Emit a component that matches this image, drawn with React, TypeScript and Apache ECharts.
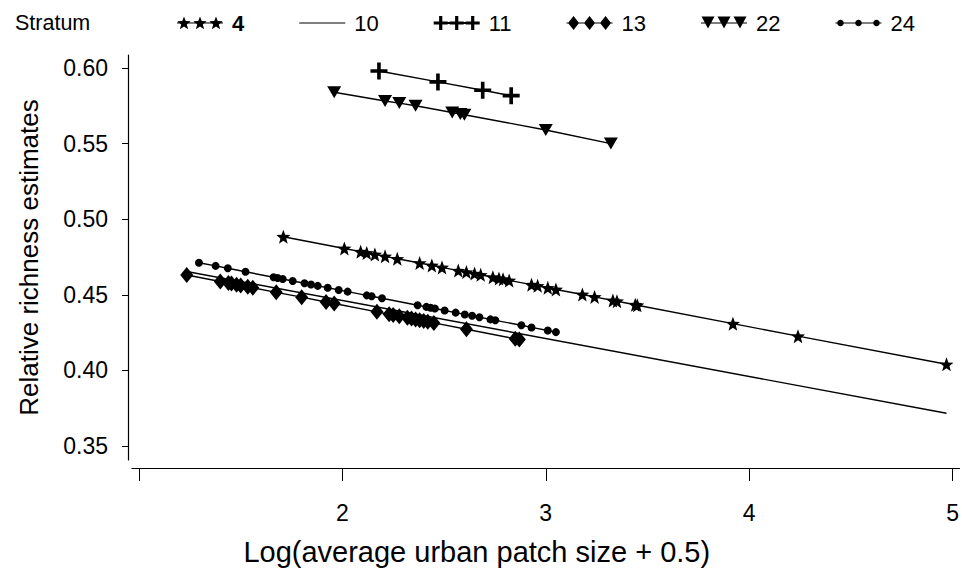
import React, { useEffect, useRef } from "react";
import * as echarts from "echarts";

// ---- data ----
const legendNames = ["4", "10", "11", "13", "22", "24"];

const x4 = [1.71, 2.01, 2.09, 2.12, 2.16, 2.21, 2.27, 2.38, 2.44, 2.49, 2.57, 2.61, 2.65, 2.68, 2.74, 2.77, 2.79, 2.82, 2.93, 2.96, 3.01, 3.05, 3.18, 3.24, 3.33, 3.35, 3.44, 3.45, 3.92, 4.24, 4.97];
const y4 = [0.4884, 0.4806, 0.4785, 0.4777, 0.4767, 0.4754, 0.4738, 0.4710, 0.4694, 0.4681, 0.4660, 0.4650, 0.4640, 0.4632, 0.4616, 0.4608, 0.4603, 0.4595, 0.4567, 0.4559, 0.4546, 0.4535, 0.4502, 0.4486, 0.4462, 0.4457, 0.4434, 0.4431, 0.4309, 0.4226, 0.4040];

const x10 = [1.235, 4.97];
const y10 = [0.4654, 0.3716];

const x11 = [2.18, 2.47, 2.69, 2.83];
const y11 = [0.5980, 0.5908, 0.5853, 0.5817];

const x13 = [1.235, 1.40, 1.44, 1.455, 1.48, 1.50, 1.535, 1.56, 1.675, 1.80, 1.92, 1.96, 2.17, 2.23, 2.25, 2.28, 2.32, 2.34, 2.36, 2.38, 2.40, 2.42, 2.45, 2.61, 2.85, 2.87];
const y13 = [0.4631, 0.4588, 0.4578, 0.4574, 0.4567, 0.4562, 0.4553, 0.4546, 0.4516, 0.4484, 0.4452, 0.4442, 0.4387, 0.4371, 0.4366, 0.4358, 0.4348, 0.4343, 0.4337, 0.4332, 0.4327, 0.4322, 0.4314, 0.4272, 0.4209, 0.4204];

const x22 = [1.96, 2.21, 2.28, 2.36, 2.54, 2.58, 2.60, 3.00, 3.32];
const y22 = [0.5840, 0.5782, 0.5768, 0.5750, 0.5706, 0.5696, 0.5691, 0.5590, 0.5500];

const x24 = [1.295, 1.377, 1.437, 1.524, 1.662, 1.682, 1.707, 1.756, 1.814, 1.846, 1.879, 1.928, 1.982, 2.026, 2.12, 2.144, 2.195, 2.37, 2.413, 2.434, 2.455, 2.503, 2.557, 2.602, 2.638, 2.674, 2.728, 2.752, 2.88, 2.93, 3.01, 3.05];
const y24 = [0.4712, 0.4691, 0.4675, 0.4652, 0.4616, 0.4611, 0.4604, 0.4591, 0.4576, 0.4568, 0.4559, 0.4546, 0.4532, 0.4521, 0.4496, 0.4490, 0.4477, 0.4431, 0.4420, 0.4414, 0.4409, 0.4396, 0.4382, 0.4370, 0.4361, 0.4351, 0.4337, 0.4331, 0.4298, 0.4284, 0.4264, 0.4253];

const xTicks = [1, 2, 3, 4, 5];
const xLabels = [2, 3, 4, 5];
const yTicks = [0.35, 0.40, 0.45, 0.50, 0.55, 0.60];

// ---- shape helpers (styling only) ----
const f = (n: number) => n.toFixed(2);
function starPath(cx: number, cy: number, R: number) {
  const r = R * 0.42;
  let d = "";
  for (let i = 0; i < 10; i++) {
    const a = -Math.PI / 2 + (i * Math.PI) / 5;
    const rr = i % 2 === 0 ? R : r;
    d += (i === 0 ? "M" : "L") + f(cx + rr * Math.cos(a)) + " " + f(cy + rr * Math.sin(a)) + " ";
  }
  return d + "Z ";
}
function plusPath(cx: number, cy: number, s: number, t: number) {
  const h = s / 2, w = t / 2;
  return `M${f(cx - w)} ${f(cy - h)} H${f(cx + w)} V${f(cy - w)} H${f(cx + h)} V${f(cy + w)} H${f(cx + w)} V${f(cy + h)} H${f(cx - w)} V${f(cy + w)} H${f(cx - h)} V${f(cy - w)} H${f(cx - w)} Z `;
}
function diamondPath(cx: number, cy: number, w: number, h: number) {
  return `M${f(cx)} ${f(cy - h / 2)} L${f(cx + w / 2)} ${f(cy)} L${f(cx)} ${f(cy + h / 2)} L${f(cx - w / 2)} ${f(cy)} Z `;
}
function triDownPath(cx: number, cy: number, w: number, h: number) {
  return `M${f(cx - w / 2)} ${f(cy - h / 2)} L${f(cx + w / 2)} ${f(cy - h / 2)} L${f(cx)} ${f(cy + h / 2)} Z `;
}
function circlePath(cx: number, cy: number, r: number) {
  let d = "";
  for (let i = 0; i < 16; i++) {
    const a = (i * Math.PI) / 8;
    d += (i === 0 ? "M" : "L") + f(cx + r * Math.cos(a)) + " " + f(cy + r * Math.sin(a)) + " ";
  }
  return d + "Z ";
}
const IW = 46, IH = 14;
const box = `M0 0 M${IW} ${IH} `;
const lineRect = (t: number) => `M0 ${f(IH / 2 - t / 2)} H${IW} V${f(IH / 2 + t / 2)} H0 Z `;
const cxs = [7, 23, 39];

const legendIcons: Record<string, string> = {
  "4": "path://" + box + lineRect(1.2) + cxs.map((c) => starPath(c, 7.5, 7)).join(""),
  "10": "path://" + box + lineRect(1.2),
  "11": "path://" + box + lineRect(2) + cxs.map((c) => plusPath(c, 7, 14, 3.2)).join(""),
  "13": "path://" + box + lineRect(1.2) + cxs.map((c) => diamondPath(c, 7, 11, 14)).join(""),
  "22": "path://" + box + lineRect(1.2) + cxs.map((c) => triDownPath(c, 6.5, 13, 12)).join(""),
  "24": "path://" + box + lineRect(1.2) + [5, 23, 41].map((c) => circlePath(c, 7, 3.3)).join(""),
};

const FONT = "'Liberation Sans', Arial, Helvetica, sans-serif";

function zip(xs: number[], ys: number[]) {
  return xs.map((x, i) => [x, ys[i]]);
}

export default function App() {
  const ref = useRef<HTMLDivElement>(null);
  useEffect(() => {
    if (!ref.current) return;
    const chart = echarts.init(ref.current, undefined, { renderer: "svg" });
    const base = {
      type: "line" as const,
      lineStyle: { color: "#000", width: 1.4 },
      itemStyle: { color: "#000" },
      emphasis: { disabled: true },
      silent: true,
    };
    chart.setOption({
      animation: false,
      backgroundColor: "#fff",
      textStyle: { fontFamily: FONT, color: "#000" },
      title: {
        text: "Stratum",
        left: 10,
        top: 6,
        textStyle: { fontFamily: FONT, fontSize: 21.5, fontWeight: "normal", color: "#000", lineHeight: 24 },
      },
      legend: {
        left: 172,
        top: 7,
        itemWidth: IW,
        itemHeight: IH,
        itemGap: 55,
        selectedMode: false,
        textStyle: { fontFamily: FONT, fontSize: 22, color: "#000", padding: [0, 0, 0, 4] },
        data: legendNames.map((n) => ({
          name: n,
          icon: legendIcons[n],
          textStyle: n === "4" ? { fontWeight: "bold" } : undefined,
        })),
      },
      grid: { left: 132, right: 0, top: 55, bottom: 113 },
      xAxis: {
        type: "value",
        min: 0.966,
        max: 5.034,
        offset: 8,
        name: "Log(average urban patch size + 0.5)",
        nameLocation: "middle",
        nameGap: 69,
        nameTextStyle: { fontFamily: FONT, fontSize: 29, color: "#000", padding: [0, 138, 0, 0] },
        axisLine: { show: true, lineStyle: { color: "#000", width: 1.2 } },
        axisTick: { show: true, customValues: xTicks, length: 13, lineStyle: { color: "#000", width: 1 } },
        axisLabel: { customValues: xLabels, margin: 33, fontFamily: FONT, fontSize: 23, color: "#000" },
        splitLine: { show: false },
      },
      yAxis: {
        type: "value",
        min: 0.3407,
        max: 0.6086,
        offset: 4,
        name: "Relative richness estimates",
        nameLocation: "middle",
        nameGap: 86,
        nameTextStyle: { fontFamily: FONT, fontSize: 26, color: "#000" },
        axisLine: { show: true, lineStyle: { color: "#000", width: 1.2 } },
        axisTick: { show: true, customValues: yTicks, length: 6, lineStyle: { color: "#000", width: 1 } },
        axisLabel: {
          customValues: yTicks,
          margin: 20,
          fontFamily: FONT,
          fontSize: 23,
          color: "#000",
          formatter: (v: number) => v.toFixed(2),
        },
        splitLine: { show: false },
      },
      series: [
        { ...base, name: "4", data: zip(x4, y4), symbol: "path://" + starPath(0, 0, 10), symbolSize: 14 },
        { ...base, name: "10", data: zip(x10, y10), symbol: "none", showSymbol: false },
        { ...base, name: "11", data: zip(x11, y11), symbol: "path://" + plusPath(0, 0, 16, 3.4), symbolSize: 17 },
        { ...base, name: "13", data: zip(x13, y13), symbol: "diamond", symbolSize: [13, 16] },
        { ...base, name: "22", data: zip(x22, y22), symbol: "triangle", symbolRotate: 180, symbolSize: [14, 12] },
        { ...base, name: "24", data: zip(x24, y24), symbol: "circle", symbolSize: 8 },
      ],
    });
    return () => chart.dispose();
  }, []);
  return (
    <div
      ref={ref}
      style={{ position: "absolute", left: 0, top: 0, width: 962, height: 573, background: "#fff" }}
    />
  );
}
